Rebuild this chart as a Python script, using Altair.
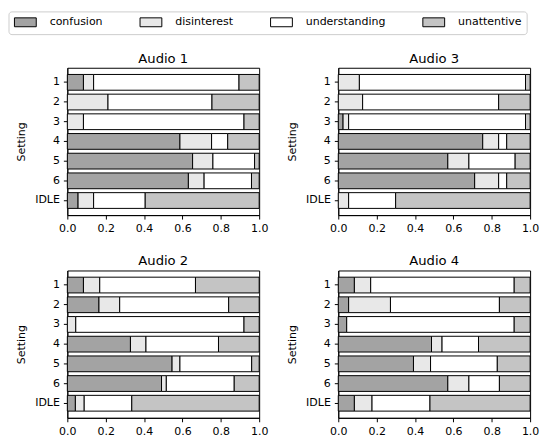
import altair as alt
import pandas as pd

categories = ["confusion", "disinterest", "understanding", "unattentive"]
settings = ["1", "2", "3", "4", "5", "6", "IDLE"]
audios = ["Audio 1", "Audio 3", "Audio 2", "Audio 4"]

# share of each category per setting (rows follow `settings`)
audio1 = {
    "confusion":     [0.084, 0.000, 0.000, 0.587, 0.653, 0.631, 0.056],
    "disinterest":   [0.053, 0.212, 0.084, 0.165, 0.106, 0.082, 0.081],
    "understanding": [0.758, 0.542, 0.837, 0.084, 0.217, 0.247, 0.269],
    "unattentive":   [0.105, 0.246, 0.079, 0.164, 0.024, 0.040, 0.594],
}
audio3 = {
    "confusion":     [0.000, 0.000, 0.025, 0.753, 0.571, 0.711, 0.000],
    "disinterest":   [0.110, 0.127, 0.029, 0.083, 0.110, 0.125, 0.054],
    "understanding": [0.866, 0.709, 0.922, 0.042, 0.241, 0.042, 0.245],
    "unattentive":   [0.024, 0.164, 0.024, 0.122, 0.078, 0.122, 0.701],
}
audio2 = {
    "confusion":     [0.084, 0.165, 0.000, 0.329, 0.546, 0.491, 0.042],
    "disinterest":   [0.085, 0.108, 0.044, 0.081, 0.041, 0.025, 0.046],
    "understanding": [0.499, 0.568, 0.877, 0.378, 0.374, 0.354, 0.248],
    "unattentive":   [0.332, 0.159, 0.079, 0.212, 0.039, 0.130, 0.664],
}
audio4 = {
    "confusion":     [0.084, 0.054, 0.044, 0.486, 0.392, 0.571, 0.084],
    "disinterest":   [0.085, 0.218, 0.000, 0.055, 0.089, 0.110, 0.092],
    "understanding": [0.748, 0.568, 0.873, 0.190, 0.348, 0.159, 0.302],
    "unattentive":   [0.083, 0.160, 0.083, 0.269, 0.171, 0.160, 0.522],
}
tables = {"Audio 1": audio1, "Audio 3": audio3, "Audio 2": audio2, "Audio 4": audio4}

rows = []
for name, tbl in tables.items():
    for ci, cat in enumerate(categories):
        for si, s in enumerate(settings):
            rows.append({"audio": name, "setting": s, "category": cat,
                         "order": ci, "value": tbl[cat][si]})
df = pd.DataFrame(rows)

FONT = "DejaVu Sans"
fills = ["#a3a3a3", "#e8e8e8", "#ffffff", "#c4c4c4"]
W, H = 194, 149


def panel(name):
    return (
        alt.Chart(df[df.audio == name], title=alt.TitleParams(
            name, fontSize=13.3, font=FONT, fontWeight="normal", offset=3))
        .transform_filter("datum.value > 0")
        .mark_bar(stroke="black", strokeWidth=1)
        .encode(
            x=alt.X("value:Q", stack="zero",
                    scale=alt.Scale(domain=[0, 1], nice=False, zero=True),
                    axis=alt.Axis(title=None, values=[0, 0.2, 0.4, 0.6, 0.8, 1.0],
                                  format=".1f", labelFlush=False)),
            y=alt.Y("setting:N", sort=settings,
                    scale=alt.Scale(paddingInner=0.2, paddingOuter=0.34),
                    axis=alt.Axis(title="Setting")),
            fill=alt.Fill("category:N",
                          scale=alt.Scale(domain=categories, range=fills),
                          legend=alt.Legend(title=None, orient="none",
                                            legendX=-59.5, legendY=-57,
                                            columns=4,
                                            direction="horizontal",
                                            symbolType="M-2.45,-1H2.45V1H-2.45Z",
                                            symbolSize=81,
                                            symbolOffset=6.5,
                                            symbolStrokeColor="black",
                                            symbolStrokeWidth=1,
                                            labelFontSize=11.1, labelFont=FONT,
                                            labelColor="black",
                                            labelOffset=19, columnPadding=35,
                                            padding=5, cornerRadius=3,
                                            strokeColor="#cccccc",
                                            fillColor="white")),
            order=alt.Order("order:Q"),
        )
        .properties(width=W, height=H)
    )


chart = (
    alt.vconcat(
        alt.hconcat(panel("Audio 1"), panel("Audio 3"), spacing=17),
        alt.hconcat(panel("Audio 2"), panel("Audio 4"), spacing=17),
        spacing=19,
    )
    .properties(padding={"left": 0, "top": 0, "right": 0, "bottom": 0})
    .configure(font=FONT, background="white")
    .configure_view(stroke="black", strokeWidth=1)
    .configure_axis(grid=False, domainColor="black", tickColor="black",
                    tickSize=4, labelPadding=4, labelColor="black",
                    labelFontSize=11.1, labelFont=FONT, titleFont=FONT,
                    titleFontSize=11.1, titleFontWeight="normal",
                    titleColor="black", titlePadding=8)
)

chart.save("out.html", embed_options={"renderer": "svg", "actions": False})
